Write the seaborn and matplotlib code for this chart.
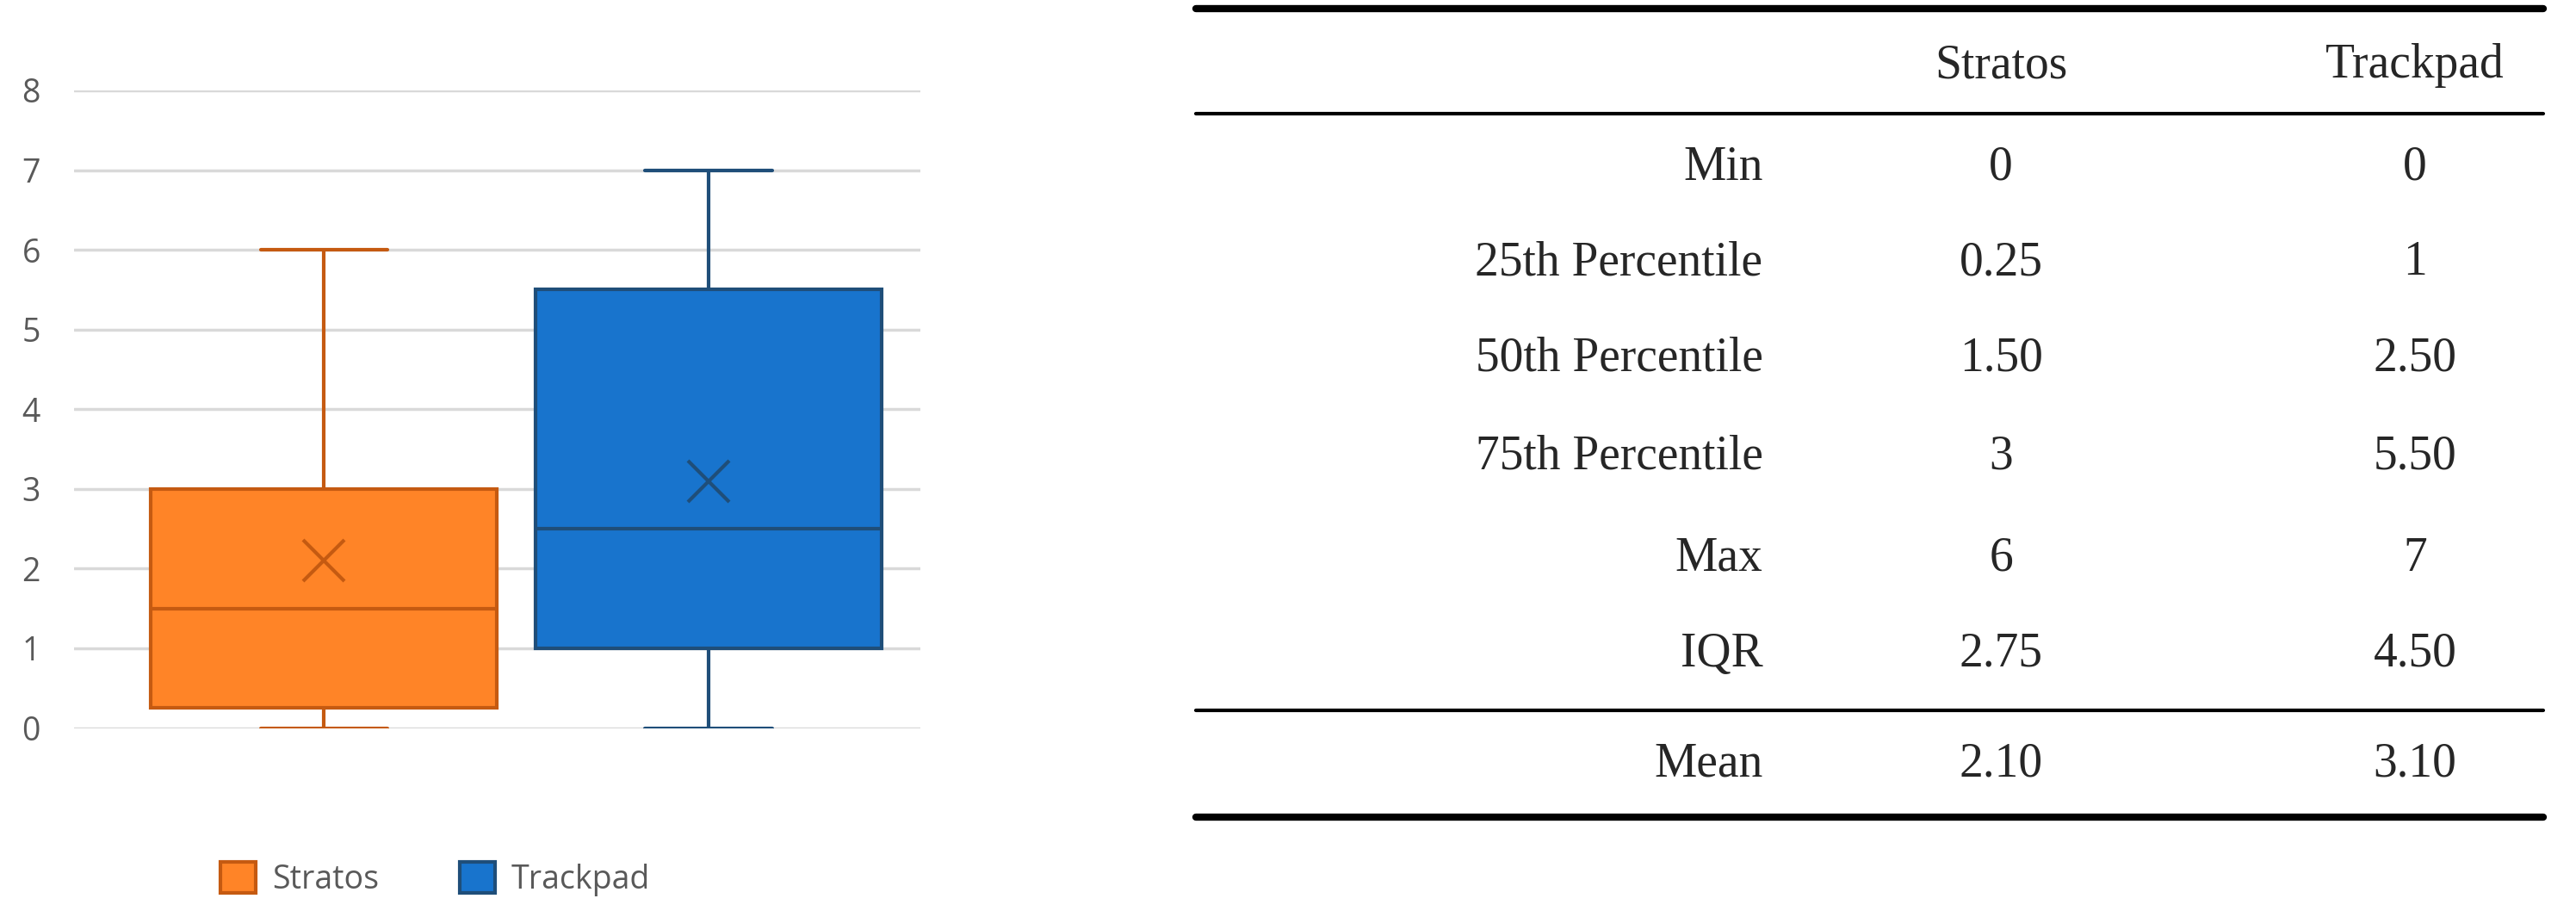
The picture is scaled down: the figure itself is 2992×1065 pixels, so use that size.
import matplotlib
matplotlib.use("Agg")
import matplotlib.pyplot as plt
import seaborn as sns
from matplotlib.patches import Patch
from matplotlib.lines import Line2D

devices = ["Stratos", "Trackpad"]
mins = [0, 0]
q1 = [0.25, 1]
med = [1.5, 2.5]
q3 = [3, 5.5]
maxs = [6, 7]
means = [2.1, 3.1]
fills = ["#FF8427", "#1874CD"]
edges = ["#C55A11", "#1F4E79"]
yticks = [0, 1, 2, 3, 4, 5, 6, 7, 8]

row_labels = ["Min", "25th Percentile", "50th Percentile", "75th Percentile", "Max", "IQR", "Mean"]
col_stratos = ["0", "0.25", "1.50", "3", "6", "2.75", "2.10"]
col_trackpad = ["0", "1", "2.50", "5.50", "7", "4.50", "3.10"]

sns.set_style("white")
plt.rcParams['font.family'] = ['Open Sans', 'DejaVu Sans']

W, H = 1568, 558
fig = plt.figure(figsize=(29.92, 10.65), dpi=100)
ax = fig.add_axes([45/W, 1-443/H, (560-45)/W, (443-55)/H])

for i in range(2):
    st = [dict(med=med[i], q1=q1[i], q3=q3[i], whislo=mins[i], whishi=maxs[i], mean=means[i])]
    ax.bxp(st, positions=[i+1], widths=0.9, patch_artist=True, showmeans=True,
           showfliers=False, showcaps=True,
           boxprops=dict(facecolor=fills[i], edgecolor=edges[i], linewidth=3),
           medianprops=dict(color=edges[i], linewidth=3),
           whiskerprops=dict(color=edges[i], linewidth=3),
           capprops=dict(color=edges[i], linewidth=3),
           capwidths=0.33,
           meanprops=dict(marker='x', markersize=34, markeredgewidth=3, markeredgecolor=edges[i]),
           zorder=3)
ax.set_xlim(0.35, 2.55)
ax.set_ylim(0, 8)
ax.set_yticks(yticks)
ax.set_xticks([])
ax.yaxis.grid(True, color="#D9D9D9", linewidth=2.5, zorder=0)
for s in ax.spines.values():
    s.set_visible(False)
ax.tick_params(axis='y', labelsize=27, labelcolor="#595959", length=0, pad=28)

handles = [Patch(facecolor=fills[i], edgecolor=edges[i], linewidth=3, label=devices[i]) for i in range(2)]
fig.legend(handles=handles, loc='center', bbox_to_anchor=(265/W, 1-535/H), ncol=2,
           frameon=False, fontsize=27, labelcolor="#595959", handlelength=1.1, handleheight=1.1,
           columnspacing=2.5, handletextpad=0.5)

# table
serif = ['Liberation Serif', 'DejaVu Serif']
fs = 40
def fx(x): return x / W
def fy(y): return 1 - y / H
fig.text(fx(1218), fy(40), devices[0], ha='center', va='center', fontsize=fs, family=serif)
fig.text(fx(1470), fy(40), devices[1], ha='center', va='center', fontsize=fs, family=serif)
rows_y = [102, 160, 218, 278, 340, 398, 465]
for lab, a, b, y in zip(row_labels, col_stratos, col_trackpad, rows_y):
    fig.text(fx(1073), fy(y), lab, ha='right', va='center', fontsize=fs, family=serif)
    fig.text(fx(1218), fy(y), a, ha='center', va='center', fontsize=fs, family=serif)
    fig.text(fx(1470), fy(y), b, ha='center', va='center', fontsize=fs, family=serif)
for y, lw in [(5, 6), (69, 3), (432, 3), (497, 6)]:
    fig.add_artist(Line2D([fx(728), fx(1548)], [fy(y), fy(y)], color='black', linewidth=lw))

fig.savefig("out.png", dpi=100)
